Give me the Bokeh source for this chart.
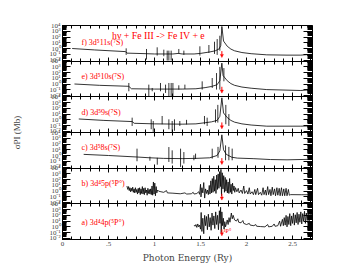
import numpy as np
from bokeh.plotting import figure
from bokeh.models import (Range1d, LogAxis, LinearAxis, FixedTicker, Label, Arrow,
                          NormalHead, CustomJSTickFormatter, LogScale)
from bokeh.embed import file_html
from bokeh.resources import INLINE

# ---------------- data (photon energy in Ry, log10 of sigma in Mb) ----------------
panel_names = ["a", "b", "c", "d", "e", "f"]          # bottom to top
panel_labels = ["a) 3d\u20744p(\u2075P\u00b0)", "b) 3d\u20745p(\u2075P\u00b0)",
                "c) 3d\u20758s(\u2077S)", "d) 3d\u20759s(\u2077S)",
                "e) 3d\u207510s(\u2077S)", "f) 3d\u207511s(\u2077S)"]
panel_label_logy = [0.83, 1.36, 1.36, 1.30, 1.27, 1.00]

f_energy = [0.105, 0.35, 0.685, 0.70, 0.91, 1.0, 1.2, 1.26, 1.30, 1.43, 1.50, 1.60, 1.66, 1.70, 1.72,
            1.732, 1.75, 1.79, 1.83, 1.87, 1.95, 2.05, 2.22, 2.44, 2.59, 2.714]
f_logsig = [0.0, -0.25, -0.54, -0.8, -0.9, -0.95, -0.95, -0.85, -0.95, -0.95, -0.85, -0.6, -0.4, -0.1, 0.5,
            3.83, 1.3, 0.4, -0.1, -0.4, -0.7, -0.9, -1.1, -1.15, -1.15, -1.0]
f_spk_e = [0.692, 0.913, 1.029, 1.101, 1.138, 1.156, 1.181, 1.264, 1.319, 1.493, 1.591, 1.652, 1.681, 1.710]
f_spk_hi = [0.03, -0.08, 0.21, -0.2, -0.37, -0.37, -0.37, -0.08, -0.37, 0.38, 0.61, 1.18, 1.64, 2.22]
f_spk_lo = [-1.11, -1.92, -1.23, -1.34, -2.09, -2.09, -2.09, -0.94, -1.11, -1.23, -0.77, -0.94, -1.11, -0.37]

e_energy = [0.13, 0.40, 0.72, 0.75, 1.0, 1.3, 1.45, 1.55, 1.62, 1.68, 1.71, 1.732, 1.745, 1.76, 1.79,
            1.83, 1.87, 1.95, 2.05, 2.22, 2.59, 2.714]
e_logsig = [0.03, -0.2, -0.37, -0.8, -0.85, -0.85, -0.8, -0.6, -0.4, -0.1, 0.6, 3.66, 1.5, 1.2, 0.6,
            0.1, -0.2, -0.5, -0.7, -0.94, -1.1, -0.94]
e_spk_e = [0.721, 0.938, 0.975, 1.065, 1.12, 1.156, 1.181, 1.20, 1.264, 1.33, 1.518, 1.627, 1.674, 1.71, 1.754]
e_spk_hi = [0.21, -0.08, -0.66, 0.21, -0.08, 0.21, 0.21, 0.21, -0.2, -0.08, 0.49, 1.07, 1.93, 3.0, 2.8]
e_spk_lo = [-1.23, -2.09, -1.23, -1.23, -1.52, -2.09, -2.09, -2.09, -0.94, -0.83, -0.94, -0.66, -0.94, -0.94, 0.5]

d_energy = [0.177, 0.45, 0.757, 0.78, 1.0, 1.3, 1.45, 1.55, 1.62, 1.68, 1.71, 1.732, 1.75, 1.79, 1.83,
            1.87, 1.95, 2.05, 2.22, 2.59, 2.714]
d_logsig = [0.15, -0.1, -0.3, -0.6, -0.7, -0.75, -0.7, -0.5, -0.35, -0.1, 0.6, 3.83, 1.2, 0.4, -0.1,
            -0.4, -0.7, -0.9, -1.1, -1.1, -1.05]
d_spk_e = [0.757, 0.964, 0.986, 1.083, 1.156, 1.192, 1.217, 1.275, 1.348, 1.543, 1.572, 1.663, 1.688, 1.775, 1.808]
d_spk_hi = [0.38, 0.09, -0.2, 0.67, 0.09, -0.2, 0.09, -0.2, 0.0, 0.67, 0.38, 1.82, 2.6, 2.6, 1.0]
d_spk_lo = [-1.06, -1.63, -2.09, -0.77, -1.63, -2.09, -1.9, -1.06, -0.8, -0.77, -1.06, -0.48, -0.48, -0.77, -1.06]

c_energy = [0.23, 0.5, 0.81, 0.95, 1.1, 1.3, 1.45, 1.6, 1.68, 1.71, 1.732, 1.75, 1.78, 1.84, 1.90,
            2.08, 2.26, 2.44, 2.714]
c_logsig = [0.2, 0.0, -0.26, -0.4, -0.5, -0.54, -0.5, -0.4, 0.0, 0.8, 3.6, 1.0, 0.2, -0.3, -0.45,
            -0.55, -0.7, -0.75, -0.65]
c_spk_e = [0.81, 0.95, 1.03, 1.156, 1.192, 1.283, 1.319, 1.428, 1.446, 1.627, 1.69, 1.772, 1.808, 1.844]
c_spk_hi = [1.19, -0.2, -0.4, 1.47, 0.9, 1.19, 0.6, 0.04, 0.33, 1.19, 1.5, 1.76, 1.5, 1.2]
c_spk_lo = [-1.0, -0.9, -1.6, -1.12, -1.4, -1.98, -1.4, -0.83, -0.6, -0.54, -0.4, -0.83, -0.83, -0.83]

b_energy = [0.700, 0.710, 0.718, 0.725, 0.733, 0.740, 0.748, 0.755, 0.763, 0.770, 0.778, 0.785, 0.793,
            0.800, 0.808, 0.815, 0.823, 0.830, 0.838, 0.845, 0.853, 0.860, 0.868, 0.875, 0.883, 0.890,
            0.898, 0.905, 0.913, 0.920, 0.928, 0.935, 0.943, 0.950, 0.958, 0.965, 0.973, 0.980, 0.988,
            0.995, 1.003, 1.010, 1.018, 1.025, 1.033, 1.045,
            1.07, 1.10, 1.13, 1.14, 1.20, 1.28, 1.33, 1.35, 1.40, 1.42, 1.43, 1.46, 1.48, 1.49,
            1.500, 1.505, 1.515, 1.525, 1.535, 1.545, 1.555, 1.565, 1.575, 1.585, 1.595, 1.603, 1.612,
            1.620, 1.628, 1.636, 1.644, 1.652, 1.660, 1.668, 1.676, 1.684, 1.692, 1.700, 1.708, 1.716,
            1.722, 1.728, 1.736, 1.744, 1.752, 1.760, 1.768, 1.776, 1.784, 1.792, 1.800, 1.808, 1.816,
            1.824, 1.832, 1.840, 1.848, 1.856, 1.864, 1.872, 1.880,
            1.895, 1.910, 1.920, 1.940, 1.955, 1.970, 1.980, 2.000, 2.015, 2.030, 2.040, 2.060, 2.075,
            2.090, 2.100, 2.120, 2.130, 2.150, 2.165, 2.180, 2.190, 2.205, 2.215, 2.230, 2.240, 2.255,
            2.265, 2.280, 2.290, 2.305, 2.315, 2.330, 2.340, 2.355, 2.365, 2.380, 2.390, 2.405, 2.415,
            2.430, 2.440, 2.455, 2.465, 2.480, 2.600, 2.714]
b_logsig = [0.9, 0.3, 0.8, 0.1, 0.6, -0.1, 0.5, 0.0, 0.7, -0.2, 0.4, -0.3, 0.6,
            -0.2, 0.3, -0.5, 0.5, -0.3, 0.6, -0.6, 0.4, -0.4, 0.8, -0.5, 0.5, -0.6,
            0.6, -0.3, 0.2, -0.7, 0.5, -0.4, 0.3, -0.5, 0.4, -0.6, 0.9, -0.7, 1.6,
            -0.5, 1.4, -0.8, 0.8, -0.3, 0.2, 0.0,
            -0.1, -0.2, 0.1, -0.3, -0.35, -0.45, -0.3, -0.5, -0.45, -0.2, -0.5, -0.4, -0.1, -0.55,
            1.2, -1.0, 0.6, -0.3, 1.5, -1.2, 0.4, -0.4, 0.2, -0.6, 1.0, -0.5, 1.8,
            -0.3, 2.2, -0.2, 2.6, 0.0, 2.0, -0.4, 2.8, 0.3, 3.0, 0.5, 3.4, 0.8,
            3.8, -0.8, 3.2, 0.4, 2.7, -0.2, 2.4, 0.0, 2.0, -0.3, 1.6, -0.4, 2.2,
            -0.2, 1.2, -0.5, 1.4, 0.1, 0.9, -0.2, 0.6,
            -0.1, 0.5, -0.3, 0.2, -0.4, 0.9, -0.4, 0.1, -0.5, 0.6, -0.5, -0.1, -0.6,
            0.3, -0.6, 0.5, -0.6, -0.2, -0.7, 0.6, -0.6, 0.2, -0.7, 0.8, -0.6, 0.3,
            -0.8, 0.7, -0.6, 0.4, -0.8, 0.6, -0.7, 0.5, -0.8, 0.6, -0.8, 0.4, -0.8,
            0.5, -0.8, 0.3, -0.7, -0.6, -0.62, -0.62]

a_energy = [1.430, 1.440, 1.450, 1.460, 1.470, 1.480, 1.490, 1.500, 1.507, 1.515, 1.525, 1.535, 1.545,
            1.555, 1.565, 1.575, 1.585, 1.595, 1.605, 1.615, 1.625, 1.635, 1.645, 1.655, 1.665, 1.675,
            1.685, 1.695, 1.705, 1.712, 1.718, 1.725, 1.732, 1.740, 1.748, 1.756, 1.764, 1.772, 1.780,
            1.790, 1.800, 1.810, 1.820, 1.835, 1.845, 1.855, 1.870, 1.890, 1.905, 1.915, 1.940, 1.960,
            1.970, 2.000, 2.030, 2.040, 2.080, 2.100, 2.110, 2.150, 2.200, 2.230, 2.240, 2.280, 2.300,
            2.310, 2.340, 2.360, 2.370, 2.390, 2.400, 2.410, 2.420, 2.430, 2.440, 2.450, 2.460, 2.470,
            2.480, 2.490, 2.500, 2.510, 2.520, 2.530, 2.540, 2.550, 2.560, 2.570, 2.580, 2.590, 2.600,
            2.610, 2.620, 2.630, 2.640, 2.650, 2.660, 2.670, 2.680, 2.690, 2.700, 2.714]
a_logsig = [0.3, 0.1, 0.4, -0.1, 0.5, 0.0, 0.3, -0.4, 2.5, -0.8, 1.5, -1.2, 2.0,
            0.2, 1.8, -0.5, 2.2, 0.0, 1.6, -0.6, 2.4, 0.3, 1.9, -0.3, 2.6, 0.4,
            2.0, -0.5, 2.8, 0.6, 3.4, -1.0, 2.6, 0.2, 1.5, -0.4, 0.9, 0.0, 0.5,
            1.2, 0.4, 1.6, 0.8, 2.4, 1.4, 2.0, 1.2, 1.0, 1.4, 0.8, 0.7, 1.1,
            0.6, 0.4, 0.6, 0.3, 0.2, 0.4, 0.1, 0.05, 0.0, 0.4, 0.0, 0.1, 0.5,
            0.1, 0.2, 1.0, 0.1, 1.3, 0.2, 1.6, 0.3, 2.0, 0.0, 1.8, 0.4, 2.3,
            0.2, 1.9, 0.6, 2.4, 0.3, 2.1, 0.7, 2.5, 0.4, 2.2, 0.8, 2.6, 0.5,
            2.3, 1.0, 2.7, 0.6, 2.4, 1.1, 2.8, 0.9, 2.5, 1.5, 3.0]

threshold_energy = 1.732          # 4P° threshold marked by red arrows
arrow_top_log = -0.45
arrow_bottom_log = -1.55

y_ticks_log = [-2, -1, 0, 1, 2, 3, 4]
x_major = [0, 0.5, 1.0, 1.5, 2.0, 2.5]
x_minor = [round(0.1 * i, 1) for i in range(28)]

series = {
    "a": (a_energy, a_logsig, [], [], []),
    "b": (b_energy, b_logsig, [], [], []),
    "c": (c_energy, c_logsig, c_spk_e, c_spk_hi, c_spk_lo),
    "d": (d_energy, d_logsig, d_spk_e, d_spk_hi, d_spk_lo),
    "e": (e_energy, e_logsig, e_spk_e, e_spk_hi, e_spk_lo),
    "f": (f_energy, f_logsig, f_spk_e, f_spk_hi, f_spk_lo),
}

# ---------------- figure ----------------
LO, HI = -2.2, 4.0
SPAN = HI - LO
X_END = 2.717
SERIF = "Liberation Serif"

def pw(v):
    return 10.0 ** np.asarray(v, dtype=float)

p = figure(width=324, height=269, output_backend="svg", toolbar_location=None,
           x_range=Range1d(0, X_END), y_range=Range1d(10 ** LO, 10 ** (HI + 5 * SPAN)),
           y_axis_type="log", y_axis_location=None, x_axis_location="below",
           min_border_left=62, min_border_right=12, min_border_top=25, min_border_bottom=30)
p.xgrid.grid_line_color = None
p.ygrid.grid_line_color = None
p.outline_line_color = "black"
p.background_fill_color = "white"
p.border_fill_color = "white"

ranges = {}
for k, name in enumerate(panel_names):
    ranges[name] = Range1d(10 ** (LO - k * SPAN), 10 ** (HI + (5 - k) * SPAN))
p.extra_y_ranges = ranges
try:
    p.extra_y_scales = {name: LogScale() for name in panel_names}
except Exception:
    pass

xa = p.below[0]
xa.ticker = FixedTicker(ticks=x_major, minor_ticks=x_minor)
xa.formatter = CustomJSTickFormatter(code="""
    if (tick == 0) return '0';
    if (tick < 1) return String(tick).slice(1);
    return String(tick);
""")
xa.major_tick_in = 4
xa.major_tick_out = 0
xa.minor_tick_in = 3
xa.minor_tick_out = 0
xa.major_label_standoff = 2
xa.major_label_text_font = SERIF
xa.major_label_text_font_size = "7px"
xa.axis_label = "Photon Energy (Ry)"
xa.axis_label_text_font = "DejaVu Serif"
xa.axis_label_text_font_size = "9px"
xa.axis_label_text_font_style = "normal"
xa.axis_label_standoff = 4

# the default y range is panel a's log range, which spans all six stacked panels;
# each panel's decades sit SPAN decades higher than the panel below
y_major = [10.0 ** (L + k * SPAN) for k in range(6) for L in y_ticks_log]
y_minor = [10.0 ** (np.log10(m) + d + k * SPAN) for k in range(6) for d in range(-3, 4)
           for m in range(2, 10) if LO <= np.log10(m) + d <= HI]

fmt = CustomJSTickFormatter(args=dict(span=SPAN), code="""
    const lg = Math.log10(tick);
    const k = Math.round((lg - 1) / span);
    const L = Math.round(lg - k * span);
    const sup = {"-": "\\u207b", "0": "\\u2070", "1": "\\u00b9", "2": "\\u00b2",
                 "3": "\\u00b3", "4": "\\u2074"};
    return "10" + String(L).split("").map(c => sup[c]).join("");
""")
ly = LogAxis(ticker=FixedTicker(ticks=y_major, minor_ticks=y_minor), formatter=fmt,
             major_tick_in=8, major_tick_out=0, minor_tick_in=4, minor_tick_out=0,
             major_label_standoff=2, major_label_text_font=SERIF,
             major_label_text_font_size="7px",
             axis_label="\u03c3PI (Mb)", axis_label_text_font=SERIF,
             axis_label_text_font_size="9px", axis_label_text_font_style="normal",
             axis_label_standoff=24)
p.add_layout(ly, "left")
ry = LogAxis(fixed_location=X_END, ticker=FixedTicker(ticks=y_major, minor_ticks=y_minor),
             major_tick_in=9, major_tick_out=0, minor_tick_in=5, minor_tick_out=0,
             major_label_text_color=None)
p.add_layout(ry, "right")

for k, name in enumerate(panel_names):
    top = LinearAxis(y_range_name=name, fixed_location=10 ** HI,
                     ticker=FixedTicker(ticks=x_major, minor_ticks=x_minor),
                     major_tick_in=4, major_tick_out=0, minor_tick_in=3, minor_tick_out=0,
                     major_label_text_color=None)
    p.add_layout(top, "above")
    if k > 0:
        bot = LinearAxis(y_range_name=name, fixed_location=10 ** LO,
                         ticker=FixedTicker(ticks=x_major, minor_ticks=x_minor),
                         major_tick_in=4, major_tick_out=0, minor_tick_in=3, minor_tick_out=0,
                         major_label_text_color=None)
        p.add_layout(bot, "below")

for k, name in enumerate(panel_names):
    en, ls, se, shi, slo = series[name]
    p.line(en, pw(ls), y_range_name=name, line_color="black", line_width=0.8)
    if se:
        p.segment(x0=se, y0=pw(slo), x1=se, y1=pw(shi), y_range_name=name,
                  line_color="black", line_width=0.8)
    p.add_layout(Arrow(end=NormalHead(size=3, fill_color="red", line_color="red", line_width=0.5),
                       x_start=threshold_energy, y_start=10 ** arrow_top_log,
                       x_end=threshold_energy, y_end=10 ** arrow_bottom_log,
                       line_color="red", line_width=1, y_range_name=name))
    p.add_layout(Label(x=0.207, y=10 ** panel_label_logy[k], y_range_name=name,
                       text=panel_labels[k], text_color="red", text_font=SERIF,
                       text_font_size="8px", text_baseline="middle"))

p.add_layout(Label(x=1.043, y=10 ** 2.26, y_range_name="f", text="h\u03bd + Fe III -> Fe IV + e",
                   text_color="red", text_font=SERIF, text_font_size="9.8px",
                   text_align="center", text_baseline="middle"))
p.add_layout(Label(x=1.75, y=10 ** -0.66, y_range_name="a", text="\u2074P\u00b0",
                   text_color="red", text_font=SERIF, text_font_size="6px",
                   text_baseline="middle"))

open("out.html", "w").write(file_html(p, INLINE))
